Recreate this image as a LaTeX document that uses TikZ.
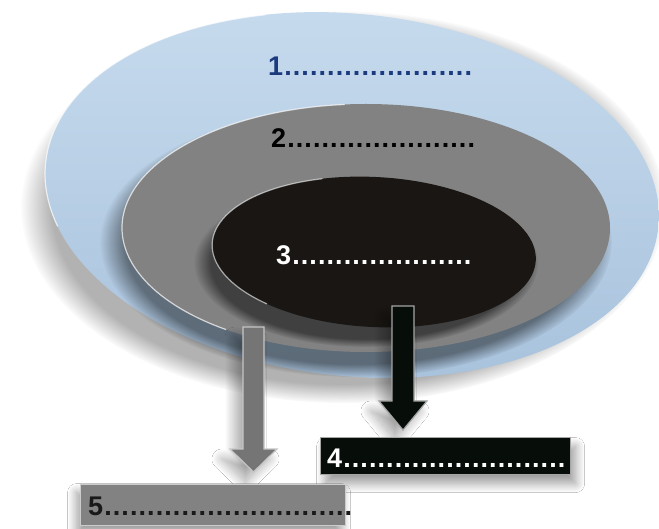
\documentclass[tikz,border=0pt]{standalone}
\usepackage{fontspec}
\newfontfamily\labelfont{Liberation Sans}[LetterSpace=4]
\usetikzlibrary{shadows.blur, fadings}

\definecolor{ringblue}{HTML}{B9D2E9}
\definecolor{ringbluedark}{HTML}{A9C3DD}
\definecolor{midgrey}{HTML}{828282}
\definecolor{coreblack}{HTML}{191613}
\definecolor{labelblue}{HTML}{1C3B7E}
\definecolor{boxblack}{HTML}{070D09}

% soft edged oval, used for the shadows under the rings
\pgfdeclareradialshading{ovalshade}{\pgfpointorigin}{color(0bp)=(pgftransparent!0); color(22.5bp)=(pgftransparent!0);
  color(25bp)=(pgftransparent!100); color(50bp)=(pgftransparent!100)}
\pgfdeclarefading{ovalfade}{\pgfuseshading{ovalshade}}

\begin{document}
\begin{tikzpicture}[x=1pt, y=1pt,
  dotline/.style={font=\labelfont\bfseries\fontsize{27}{30}\selectfont, anchor=base west, inner sep=0pt},
  ovalshadow/.style={fill=black, fill opacity=#1, path fading=ovalfade, fit fading=true},
  softshadow/.style={blur shadow={shadow xshift=-8pt, shadow yshift=-10pt, shadow blur radius=10pt, shadow blur steps=25, shadow opacity=35}},
  rim/.style={white, line width=1.2pt, opacity=0.7}]

\useasboundingbox[fill=white] (0,0) rectangle (659,-529);

% outer ring
\path[ovalshadow=0.3] (343,-207) ellipse [x radius=322pt, y radius=196pt];
\shade[top color=ringblue!80!white, bottom color=ringbluedark,
  rotate around={-6:(352,-195)}] (352,-195) ellipse [x radius=308pt, y radius=181pt];
\draw[rim, rotate around={-6:(352,-195)}] (352,-195) ++(110:308pt and 181pt) arc [start angle=110, end angle=200, x radius=308pt, y radius=181pt];

% middle ring
\path[ovalshadow=0.45] (356,-242) ellipse [x radius=256pt, y radius=135pt];
\fill[midgrey] (366,-228) ellipse [x radius=244pt, y radius=124pt];
\draw[rim] (366,-228) ++(95:244pt and 124pt) arc [start angle=95, end angle=235, x radius=244pt, y radius=124pt];

% core
\path[ovalshadow=0.5] (366,-263) ellipse [x radius=172pt, y radius=84pt];
\fill[coreblack, rotate around={-3:(374,-252)}] (374,-252) ellipse [x radius=162pt, y radius=75pt];
\draw[rim, opacity=0.6, rotate around={-3:(374,-252)}] (374,-252) ++(110:162pt and 75pt) arc [start angle=110, end angle=230, x radius=162pt, y radius=75pt];

\node[dotline, labelblue] (l1) at (268,-76) {1......................};
\node[dotline, black] (l2) at (271,-148) {2......................};
\node[dotline, white] (l3) at (276,-265) {3.....................};

% arrows
\coordinate (greytop) at (243,-327);
\coordinate (blacktop) at (392,-306);
\filldraw[fill=midgrey!110, draw=gray!45, line width=1.2pt, softshadow]
  (greytop) -- ++(21,0) -- ++(0,-122) -- ++(13,0) -- ++(-23.5,-23) -- ++(-23.5,23) -- ++(13,0) -- cycle;
\filldraw[fill=boxblack, draw=gray!70, line width=1.2pt, softshadow]
  (blacktop) -- ++(22,0) -- ++(0,-95) -- ++(13,0) -- ++(-24,-29) -- ++(-24,29) -- ++(13,0) -- cycle;

% boxes
\node[fill=boxblack, draw=gray!70, line width=1.2pt, minimum width=250pt, minimum height=37pt, anchor=north west,
  blur shadow={shadow xshift=5pt, shadow yshift=-9pt, shadow blur radius=9pt, shadow blur steps=20, shadow opacity=40}] (box4) at (320,-437) {};
\node[fill=midgrey, draw=gray!40, line width=1.2pt, minimum width=265pt, minimum height=41pt, anchor=north west,
  blur shadow={shadow xshift=-4pt, shadow yshift=-8pt, shadow blur radius=9pt, shadow blur steps=20, shadow opacity=40}] (box5) at (80,-484) {};

\node[dotline, white] (l4) at (327,-467) {4..........................};
\node[dotline, black!90] (l5) at (88,-515) {5.............................};

\end{tikzpicture}
\end{document}
